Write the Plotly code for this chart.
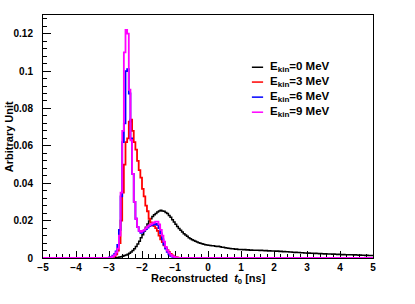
import plotly.graph_objects as go

# ---------------- data ----------------
X_MIN, X_MAX = -5.0, 5.0
BIN_WIDTH = 0.05

# E_kin = 0 MeV (black), starts at t = -2.8 ns
E0_START = -2.8
E0_VALUES = [
    0.0002, 0.0003, 0.0005, 0.0007, 0.0010, 0.0013, 0.0016, 0.0020,
    0.0026, 0.0032, 0.0040, 0.0050, 0.0062, 0.0075, 0.0090, 0.0108,
    0.0125, 0.0145, 0.0165, 0.0182, 0.0198, 0.0210, 0.0222, 0.0232,
    0.0238, 0.0246, 0.0252, 0.0255, 0.0252, 0.0250, 0.0244, 0.0238,
    0.0228, 0.0218, 0.0205, 0.0193, 0.0180, 0.0168, 0.0158, 0.0148,
    0.0139, 0.0130, 0.0123, 0.0116, 0.0109, 0.0103, 0.0098, 0.0094,
    0.0089, 0.0085, 0.0082, 0.0079, 0.0076, 0.0073, 0.0071, 0.0069,
    # t = 0.0 .. 4.95
    0.0068, 0.0067, 0.0065, 0.0066, 0.0063, 0.0062, 0.0063, 0.0060, 0.0058, 0.0057,
    0.0055, 0.0054, 0.0052, 0.0051, 0.0050, 0.0049, 0.0047, 0.0048, 0.0046, 0.0045,
    0.0046, 0.0044, 0.0045, 0.0043, 0.0044, 0.0042, 0.0043, 0.0042, 0.0041, 0.0042,
    0.0041, 0.0040, 0.0042, 0.0040, 0.0039, 0.0040, 0.0038, 0.0039, 0.0038, 0.0037,
    0.0037, 0.0036, 0.0037, 0.0035, 0.0036, 0.0034, 0.0035, 0.0033, 0.0034, 0.0032,
    0.0032, 0.0031, 0.0030, 0.0031, 0.0029, 0.0029, 0.0028, 0.0028, 0.0027, 0.0027,
    0.0026, 0.0027, 0.0025, 0.0026, 0.0024, 0.0025, 0.0024, 0.0023, 0.0024, 0.0023,
    0.0022, 0.0023, 0.0022, 0.0021, 0.0022, 0.0020, 0.0021, 0.0020, 0.0019, 0.0020,
    0.0019, 0.0018, 0.0019, 0.0018, 0.0017, 0.0018, 0.0017, 0.0017, 0.0016, 0.0017,
    0.0016, 0.0015, 0.0016, 0.0015, 0.0015, 0.0014, 0.0015, 0.0014, 0.0013, 0.0013,
]

# E_kin = 3 MeV (red), starts at t = -3.0 ns
E3_START = -3.0
E3_VALUES = [
    0.0001, 0.0003, 0.0006, 0.0010, 0.0020, 0.0040, 0.0080, 0.0200,
    0.0350, 0.0500, 0.0620, 0.0640, 0.0730, 0.0740, 0.0680, 0.0620,
    0.0580, 0.0520, 0.0470, 0.0430, 0.0370, 0.0330, 0.0280, 0.0250,
    0.0210, 0.0190, 0.0175, 0.0170, 0.0160, 0.0145, 0.0120, 0.0100,
    0.0085, 0.0068, 0.0055, 0.0042, 0.0031, 0.0022, 0.0014, 0.0009,
    0.0005, 0.0003, 0.0001,
]

# E_kin = 6 MeV (blue), starts at t = -3.0 ns
E6_START = -3.0
E6_VALUES = [
    0.0003, 0.0006, 0.0012, 0.0020, 0.0035, 0.0070, 0.0150, 0.0330,
    0.0620, 0.0720, 0.1000, 0.1010, 0.0880, 0.0640, 0.0450, 0.0300,
    0.0210, 0.0165, 0.0145, 0.0135, 0.0140, 0.0148, 0.0155, 0.0162,
    0.0170, 0.0175, 0.0178, 0.0180, 0.0182, 0.0178, 0.0160, 0.0132,
    0.0100, 0.0072, 0.0050, 0.0033, 0.0020, 0.0012, 0.0007, 0.0004,
    0.0002, 0.0001,
]

# E_kin = 9 MeV (magenta), starts at t = -3.0 ns
E9_START = -3.0
E9_VALUES = [
    0.0002, 0.0004, 0.0008, 0.0015, 0.0030, 0.0050, 0.0120, 0.0350,
    0.0680, 0.1100, 0.1220, 0.1200, 0.0900, 0.0630, 0.0450, 0.0300,
    0.0210, 0.0165, 0.0145, 0.0140, 0.0145, 0.0150, 0.0160, 0.0168,
    0.0175, 0.0180, 0.0185, 0.0190, 0.0195, 0.0195, 0.0180, 0.0150,
    0.0120, 0.0088, 0.0060, 0.0040, 0.0027, 0.0017, 0.0010, 0.0006,
    0.0003, 0.0001,
]

SERIES_NAMES = ["E<sub>kin</sub>=0 MeV", "E<sub>kin</sub>=3 MeV",
                "E<sub>kin</sub>=6 MeV", "E<sub>kin</sub>=9 MeV"]
SERIES_COLORS = ["#000000", "#ff0000", "#0000ff", "#ff00ff"]
SERIES_WIDTHS = [1.5, 1.8, 1.8, 1.8]

X_TITLE = "Reconstructed  <i>t</i><sub>0</sub> [ns]"
Y_TITLE = "Arbitrary Unit"

# ---------------- build histograms ----------------
N_BINS = int(round((X_MAX - X_MIN) / BIN_WIDTH))
EDGES = [X_MIN + i * BIN_WIDTH for i in range(N_BINS + 1)]


def full_hist(start, values):
    h = [0.0] * N_BINS
    i0 = int(round((start - X_MIN) / BIN_WIDTH))
    for k, v in enumerate(values):
        if 0 <= i0 + k < N_BINS:
            h[i0 + k] = v
    return h


hists = [full_hist(E0_START, E0_VALUES), full_hist(E3_START, E3_VALUES),
         full_hist(E6_START, E6_VALUES), full_hist(E9_START, E9_VALUES)]

FONT = "Liberation Sans"

fig = go.Figure()
for h, name, col, w in zip(hists, SERIES_NAMES, SERIES_COLORS, SERIES_WIDTHS):
    fig.add_trace(go.Scatter(
        x=EDGES, y=h + [h[-1]], mode="lines", name=name,
        line=dict(color=col, width=w, shape="hv"),
        showlegend=False, hoverinfo="skip",
    ))

# ---------------- manual ROOT-like legend ----------------
LEG_X0, LEG_X1, LEG_TX = 0.633, 0.667, 0.681
LEG_Y = [0.785, 0.724, 0.662, 0.600]
for name, col, y in zip(SERIES_NAMES, SERIES_COLORS, LEG_Y):
    fig.add_shape(type="line", xref="paper", yref="paper",
                  x0=LEG_X0, x1=LEG_X1, y0=y, y1=y,
                  line=dict(color=col, width=1.5))
    fig.add_annotation(xref="paper", yref="paper", x=LEG_TX, y=y,
                       xanchor="left", yanchor="middle", showarrow=False,
                       text="<b>" + name.replace("<sub>", "<sub><b>").replace("</sub>", "</b></sub>") + "</b>",
                       font=dict(family=FONT, size=11.5, color="black"))

# axis titles placed as annotations (ROOT-like positions)
fig.add_annotation(xref="paper", yref="paper", x=0.5, y=-0.085,
                   xanchor="center", yanchor="middle", showarrow=False,
                   text="<b>" + X_TITLE + "</b>",
                   font=dict(family=FONT, size=11, color="black"))
fig.add_annotation(xref="paper", yref="paper", x=-0.104, y=0.5,
                   xanchor="center", yanchor="middle", showarrow=False,
                   textangle=-90, text="<b>" + Y_TITLE + "</b>",
                   font=dict(family=FONT, size=11, color="black"))

axis_common = dict(
    showgrid=False, zeroline=False, showline=True, mirror=True,
    linecolor="black", linewidth=1, ticks="inside", tickcolor="black",
    tickwidth=1, layer="below traces", automargin=False,
    tickfont=dict(family=FONT, size=10, color="black", weight="bold"),
)

fig.update_layout(
    width=415, height=304,
    margin=dict(l=43, r=42, t=15, b=46),
    paper_bgcolor="white", plot_bgcolor="white",
    xaxis=dict(range=[X_MIN, X_MAX], dtick=1, tick0=0, ticklen=7,
               minor=dict(dtick=0.2, ticklen=4, ticks="inside", tickcolor="black"),
               **axis_common),
    yaxis=dict(range=[0, 0.13], dtick=0.02, tick0=0, ticklen=8,
               ticklabelstandoff=7,
               minor=dict(dtick=0.004, ticklen=4, ticks="inside", tickcolor="black"),
               **axis_common),
)

# remove the default 8 px page margin so the figure sits at the window origin
fig.write_html("out.html",
               config={"displayModeBar": False},
               post_script="document.body.style.margin='0';"
                           "document.body.style.overflow='hidden';")
